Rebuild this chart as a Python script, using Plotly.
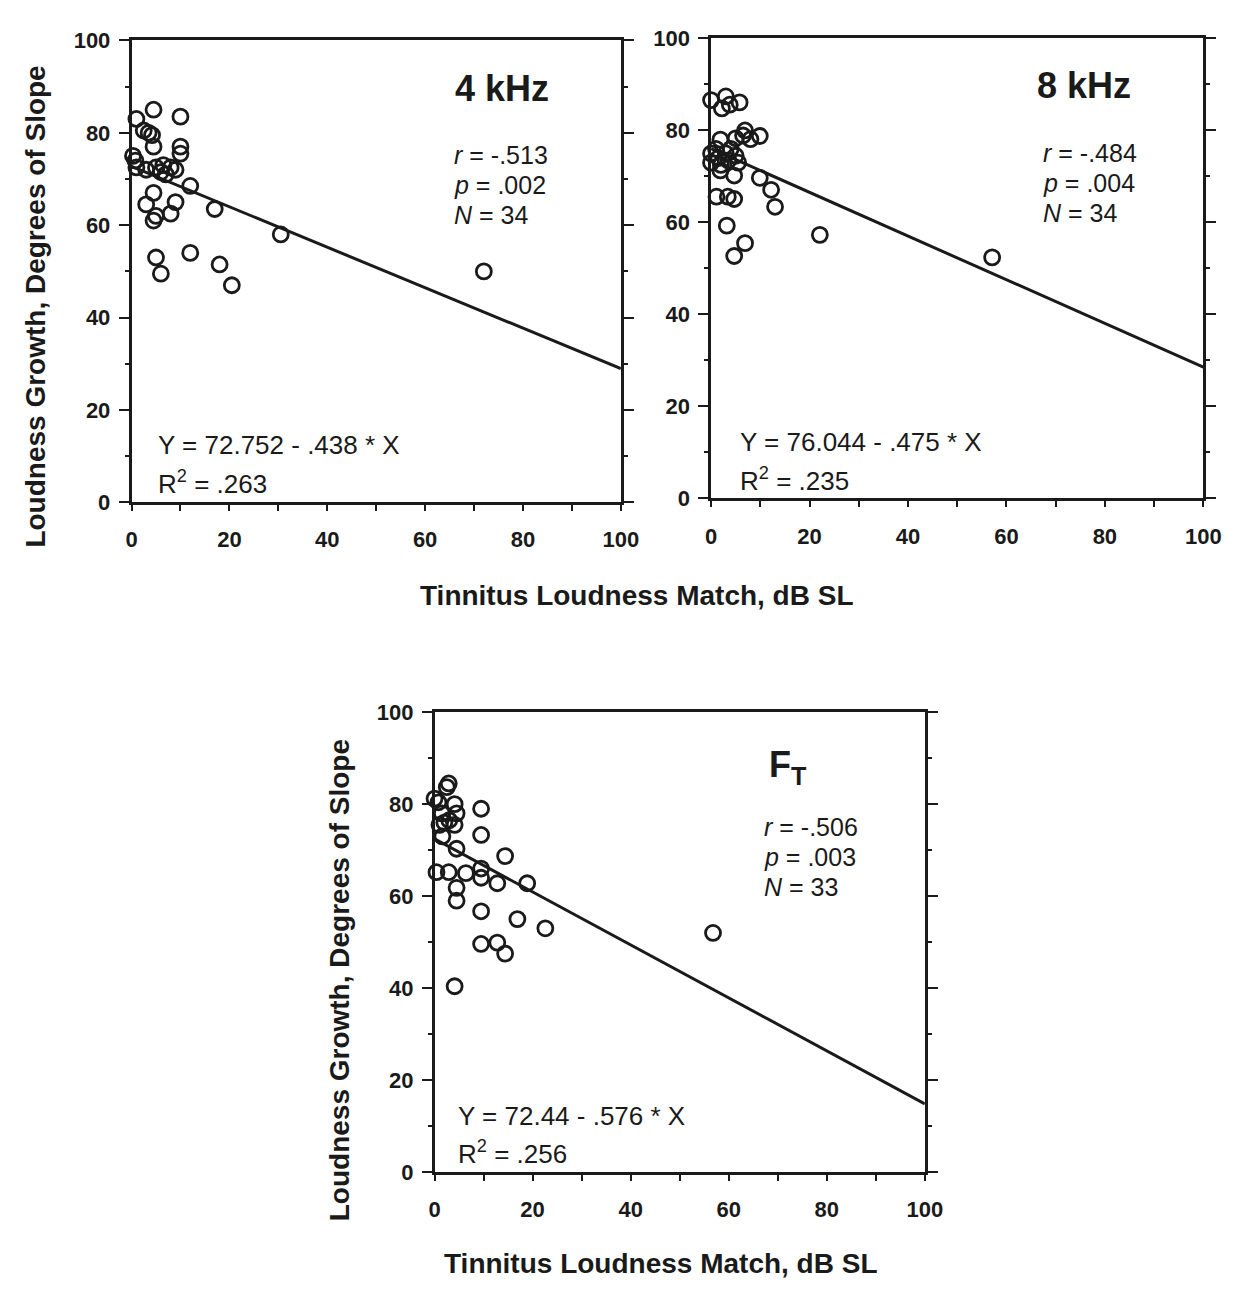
import plotly.graph_objects as go
import numpy as np

# ---------------- data ----------------
p1_x = [4.5, 1, 10, 2.5, 3.5, 4.2, 4.5, 10, 10, 0.3, 0.8, 1, 3, 5, 6.5, 8, 9, 6, 7, 12,
        4.5, 9, 3, 17, 5, 8, 4.5, 30.5, 5, 12, 18, 6, 20.5, 72]
p1_y = [85, 83, 83.5, 80.5, 80, 79.5, 77, 77, 75.5, 75, 74, 72.5, 72, 72.5, 73, 72.5, 72, 71.5, 71, 68.5,
        67, 65, 64.5, 63.5, 62, 62.5, 61, 58, 53, 54, 51.5, 49.5, 47, 50]

p2_x = [0, 3, 2.2, 3.8, 5.8, 6.9, 6.5, 8, 9.9, 5, 1.9, 0, 0, 1, 1.5, 2, 3, 3.5, 4, 5, 5.5,
        1.9, 4.7, 9.9, 12.2, 13, 1.1, 3.4, 4.7, 3.2, 6.9, 4.7, 22.1, 57.1]
p2_y = [86.6, 87.4, 84.8, 85.6, 86.1, 80, 78.9, 78.1, 78.8, 78.3, 78, 75, 73, 76, 74, 72.5, 75, 73.5, 76, 74.5, 73,
        71.3, 70.2, 69.7, 67.1, 63.4, 65.6, 65.6, 65.1, 59.3, 55.5, 52.7, 57.3, 52.4]

p3_x = [2.9, 2.5, 0, 0.8, 4.1, 4.5, 9.5, 1.5, 2, 1, 3, 4.1, 9.5, 1.6, 4.5, 14.4, 0.4, 2.9, 6.4, 9.5, 9.5,
        12.8, 18.9, 4.5, 4.5, 9.5, 16.9, 22.6, 9.5, 12.8, 14.4, 4.1, 56.8]
p3_y = [84.5, 83.7, 81.2, 80.4, 80, 78, 79, 78, 76, 75.5, 76.5, 75.5, 73.3, 73, 70.3, 68.7, 65.2, 65.2, 65, 66, 64,
        62.8, 62.8, 61.8, 59, 56.7, 55, 53, 49.6, 49.9, 47.5, 40.4, 52]

# regression equations (as printed)
fit_intercepts = [72.752, 76.044, 72.44]
fit_slopes = [-0.438, -0.475, -0.576]
panel_labels = ["4 kHz", "8 kHz", "F<sub>T</sub>"]
stats_r = ["-.513", "-.484", "-.506"]
stats_p = [".002", ".004", ".003"]
stats_n = ["34", "34", "33"]
equations = ["Y = 72.752 - .438 * X", "Y = 76.044 - .475 * X", "Y = 72.44 - .576 * X"]
r2_vals = [".263", ".235", ".256"]
tick_vals = [0, 20, 40, 60, 80, 100]

# ---------------- figure ----------------
W, H = 1238, 1290
FONT = "Liberation Sans, Arial, Helvetica, sans-serif"
INK = "#1a1a1a"

# pixel boxes (left, right, top, bottom)
boxes = [(128, 627, 29, 500), (719, 1221, 27, 496), (437, 937, 714, 1183)]

fig = go.Figure()
xs = [p1_x, p2_x, p3_x]
ys = [p1_y, p2_y, p3_y]

for i in range(3):
    ax = "" if i == 0 else str(i + 1)
    fig.add_trace(go.Scatter(
        x=xs[i], y=ys[i], mode="markers", xaxis="x" + ax, yaxis="y" + ax,
        marker=dict(symbol="circle-open", size=15, color=INK, line=dict(width=2.8, color=INK)),
        cliponaxis=False, showlegend=False, hoverinfo="x+y"))
    lx = np.array([0, 100])
    ly = fit_intercepts[i] + fit_slopes[i] * lx
    fig.add_trace(go.Scatter(
        x=lx, y=ly, mode="lines", xaxis="x" + ax, yaxis="y" + ax,
        line=dict(color=INK, width=3), showlegend=False, hoverinfo="skip"))

layout = dict(
    width=W, height=H, margin=dict(l=0, r=0, t=0, b=0),
    paper_bgcolor="white", plot_bgcolor="white",
    font=dict(family=FONT, color=INK),
)

for i, (l, r, t, b) in enumerate(boxes):
    ax = "" if i == 0 else str(i + 1)
    xd = [l / W, r / W]
    yd = [1 - b / H, 1 - t / H]
    layout["xaxis" + ax] = dict(
        domain=xd, range=[0, 100], tickvals=tick_vals, showgrid=False, zeroline=False,
        showline=True, linecolor=INK, linewidth=2.5, mirror=True,
        ticks="outside", ticklen=6, tickwidth=2, tickcolor=INK,
        minor=dict(dtick=10, tick0=0, ticks="outside", ticklen=6, tickwidth=2, tickcolor=INK),
        tickfont=dict(family=FONT, size=22, color=INK, weight="bold"),
        ticklabelstandoff=10,
        anchor="y" + ax, fixedrange=True)
    layout["yaxis" + ax] = dict(
        domain=yd, range=[0, 100], tickvals=tick_vals, showgrid=False, zeroline=False,
        showline=True, linecolor=INK, linewidth=2.5, mirror="ticks",
        ticks="outside", ticklen=10, tickwidth=2, tickcolor=INK,
        minor=dict(dtick=10, tick0=0, ticks="outside", ticklen=4, tickwidth=2, tickcolor=INK),
        tickfont=dict(family=FONT, size=22, color=INK, weight="bold"),
        ticklabelstandoff=4,
        anchor="x" + ax, fixedrange=True)

fig.update_layout(**layout)

# ---------------- annotations ----------------
ann = []
# positions in data coordinates of each panel
label_pos = [(75.7, 89.5), (75.7, 89.8), (72.0, 88.0)]
stats_x = [65.5, 67.0, 66.8]
stats_y = [(75.2, 68.6, 62.1), (75.2, 68.6, 62.0), (75.1, 68.5, 61.9)]
eq_x = [5.0, 5.4, 4.4]
eq_y = [(12.3, 4.2), (12.2, 4.1), (12.3, 4.3)]

for i in range(3):
    ax = "" if i == 0 else str(i + 1)
    xr, yr = "x" + ax, "y" + ax
    ann.append(dict(x=label_pos[i][0], y=label_pos[i][1], xref=xr, yref=yr, showarrow=False,
                    text="<b>" + panel_labels[i] + "</b>", xanchor="center", yanchor="middle",
                    font=dict(family=FONT, size=36, color=INK)))
    lines = ["<i>r</i> = " + stats_r[i], "<i>p</i> = " + stats_p[i], "<i>N</i> = " + stats_n[i]]
    for txt, yy in zip(lines, stats_y[i]):
        ann.append(dict(x=stats_x[i], y=yy, xref=xr, yref=yr, showarrow=False, text=txt,
                        xanchor="left", yanchor="middle", font=dict(family=FONT, size=25, color=INK)))
    ann.append(dict(x=eq_x[i], y=eq_y[i][0], xref=xr, yref=yr, showarrow=False, text=equations[i],
                    xanchor="left", yanchor="middle", font=dict(family=FONT, size=26, color=INK)))
    ann.append(dict(x=eq_x[i], y=eq_y[i][1], xref=xr, yref=yr, showarrow=False,
                    text="R<sup>2</sup> = " + r2_vals[i],
                    xanchor="left", yanchor="middle", font=dict(family=FONT, size=26, color=INK)))

ytitle = "<b>Loudness Growth, Degrees of Slope</b>"
xtitle = "<b>Tinnitus Loudness Match, dB SL</b>"
for (px, py) in [(30, 300), (340, 987)]:
    ann.append(dict(x=px / W, y=1 - py / H, xref="paper", yref="paper", showarrow=False,
                    text=ytitle, textangle=-90, xanchor="center", yanchor="middle",
                    font=dict(family=FONT, size=28, color=INK)))
for (px, py) in [(643, 595), (668, 1276)]:
    ann.append(dict(x=px / W, y=1 - py / H, xref="paper", yref="paper", showarrow=False,
                    text=xtitle, xanchor="center", yanchor="middle",
                    font=dict(family=FONT, size=28, color=INK)))

fig.update_layout(annotations=ann)
fig.write_html("out.html")
